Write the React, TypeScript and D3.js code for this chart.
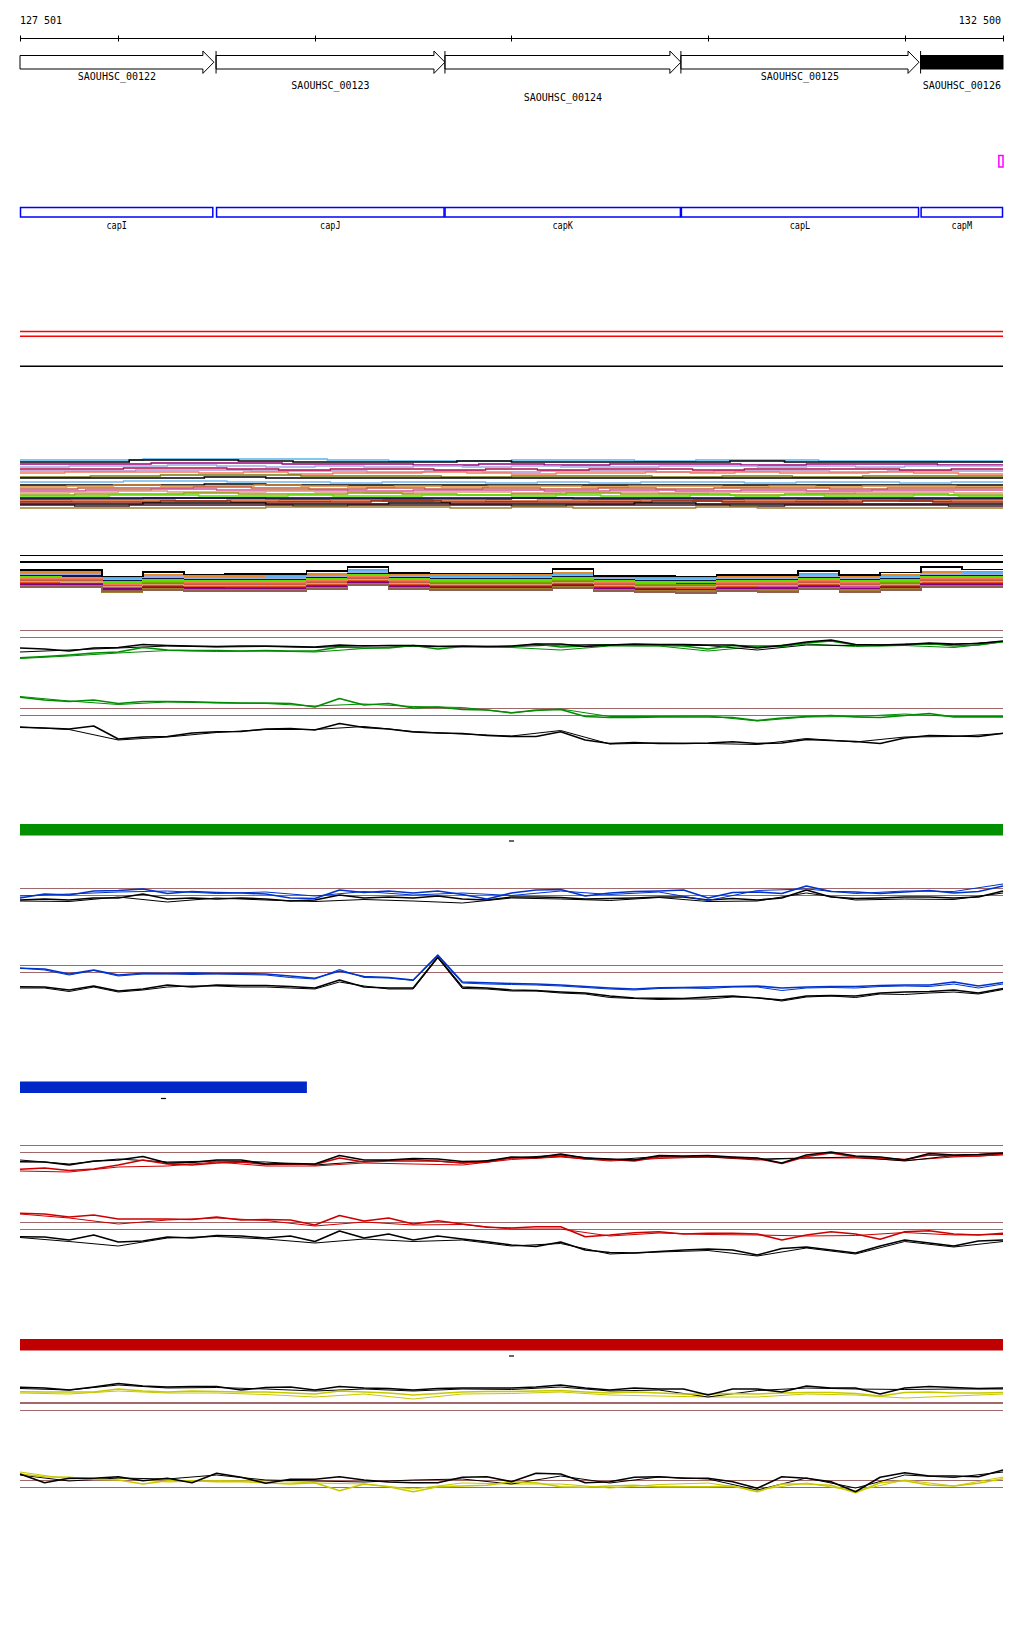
import React from 'react';
import * as d3 from 'd3';

// ---------- window / annotation data ----------
const WINDOW: [number, number] = [127501, 132500];
const RULER_TICKS = [128000, 129000, 130000, 131000, 132000];

const GENE_NAMES = ['SAOUHSC_00122', 'SAOUHSC_00123', 'SAOUHSC_00124', 'SAOUHSC_00125', 'SAOUHSC_00126'];
const GENE_STARTS = [127200, 128498, 129662, 130862, 132081];
const GENE_ENDS = [128487, 129662, 130862, 132073, 132900];
const GENE_ROWS = [0, 1, 2, 0, 1];
const GENE_SELECTED = [false, false, false, false, true];

const CDS_NAMES = ['capI', 'capJ', 'capK', 'capL', 'capM'];
const CDS_STARTS = [127200, 128498, 129660, 130862, 132081];
const CDS_ENDS = [128484, 129660, 130862, 132073, 132900];

const MARKER = [132479, 132500];

const BAR_GREEN = [127501, 132500];
const BAR_BLUE = [127501, 128960];
const BAR_RED = [127501, 132500];

// ---------- multi-sample step tracks ----------
const TA_COLORS = ['#5ab4f0', '#000000', '#990077', '#a0a8e8', '#b090d0', '#b0104a', '#f87858', '#7a7a10', '#000000', '#70b8f0', '#000000', '#e08a30', '#c06040', '#d050a0', '#d8a070', '#94a010', '#58e000', '#000000', '#101848', '#e05a20', '#902010', '#000000', '#401020', '#a08030'];
const TA_VALUES = [
  [50, 50, 51, 51, 51, 50, 49, 49, 50, 50, 49, 50, 50, 49, 49, 49],
  [48, 48, 50, 50, 49, 48, 48, 48, 49, 48, 48, 48, 48, 49, 48, 48, 48, 48],
  [46, 46, 47, 47, 46, 46, 45, 46, 45, 46, 46, 45, 46, 46, 45],
  [43, 44, 44, 45, 44, 43, 44, 43, 44, 43, 44, 43, 43, 44, 44, 43, 44, 43, 44, 44],
  [39, 39, 40, 40, 39, 39, 38, 39, 38, 39, 39, 38, 39, 39, 38, 39, 39],
  [41, 41, 42, 42, 41, 40, 41, 41, 40, 41, 40, 41, 41, 40, 41, 41, 41, 40, 41],
  [37, 38, 38, 38, 37, 38, 36, 37, 37, 38, 37, 36, 37, 37, 38, 37, 38, 37, 37, 38, 37, 36],
  [33, 34, 35, 35, 34, 34, 33, 34, 34, 33, 34, 33, 34, 34],
  [32, 32, 32, 33, 32, 32, 32, 32, 32, 32, 32, 32, 32, 32, 32, 32],
  [28, 28, 29, 29, 28, 28, 27, 28, 28, 27, 28, 27, 28, 28, 27, 28, 28, 27, 28],
  [25, 25, 25, 26, 25, 25, 25, 25, 25, 25, 25, 25, 25, 25, 25, 25],
  [23, 24, 25, 24, 24, 25, 24, 23, 24, 23, 24, 24, 23, 24, 24, 23, 24, 23, 24, 24, 23],
  [21, 22, 22, 23, 22, 21, 22, 21, 22, 21, 22, 21, 22, 22, 21, 22, 22],
  [19, 20, 21, 20, 20, 19, 20, 20, 19, 20, 19, 20, 19, 20, 20],
  [17, 18, 19, 18, 18, 19, 18, 17, 18, 18, 17, 18, 18, 17, 18, 18, 17, 18, 18, 17],
  [15, 16, 16, 17, 16, 16, 17, 16, 15, 16, 17, 16, 16, 15, 16, 16, 16, 15],
  [14, 14, 15, 15, 14, 14, 15, 14, 14, 15, 15, 14, 15, 14, 14, 15, 14, 15, 14, 14, 15, 14],
  [12, 12, 12, 12, 12, 12, 12, 12, 12, 12, 12, 12, 12, 12, 12, 12],
  [11, 11, 12, 12, 11, 11, 11, 11, 12, 11, 11, 11, 11, 11, 11, 11],
  [9, 10, 10, 9, 10, 9, 10, 9, 10, 9, 10, 9, 10, 9, 10, 9, 10, 9, 10],
  [8, 8, 9, 8, 8, 9, 8, 8, 8, 9, 8, 8, 9, 8],
  [6, 6, 7, 7, 6, 6, 7, 6, 6, 6, 7, 6, 6, 6, 6, 6],
  [5, 4, 5, 5, 5, 4, 5, 5, 5, 4, 5, 5, 5, 4, 5, 5, 5, 4],
  [2, 2, 2, 2, 3, 3, 3, 2, 3, 2, 2, 3, 2, 2, 2, 2],
];

const TB_REFS = [44.5, 38.2];
const TB_COLORS = ['#e08a30', '#5ab4f0', '#a0a8e8', '#101848', '#60e000', '#990077', '#f87858', '#80a000', '#c06040', '#d050a0', '#e05020', '#d8a070', '#a02020', '#800080', '#a08030', '#906050', '#000000'];
const TB_VALUES = [
  [28, 28, 23, 25, 24, 24, 24, 26, 30, 26, 25, 25, 25, 27, 24, 23, 23, 24, 24, 26, 24, 25, 28, 28],
  [26, 26, 21, 24, 22, 22, 23, 24, 29, 24, 23, 24, 23, 25, 22, 21, 21, 22, 22, 25, 22, 23, 26, 27],
  [25, 25, 20, 23, 21, 21, 21, 23, 28, 23, 22, 22, 22, 24, 21, 20, 20, 21, 21, 24, 21, 22, 26, 25],
  [24, 24, 19, 21, 20, 20, 20, 22, 26, 22, 21, 21, 21, 23, 20, 19, 19, 20, 20, 22, 20, 21, 24, 24],
  [23, 22, 18, 20, 19, 19, 19, 21, 25, 21, 20, 20, 20, 22, 19, 18, 18, 19, 19, 21, 19, 20, 23, 23],
  [21.5, 21.5, 16.5, 18.5, 17.5, 17.5, 17.5, 19.5, 23.5, 19.5, 18.5, 18.5, 18.5, 20.5, 17.5, 16.5, 16.5, 17.5, 17.5, 19.5, 17.5, 18.5, 21.5, 21.5],
  [21, 21, 16, 18, 17, 17, 17, 19, 23, 19, 18, 18, 18, 20, 17, 16, 15, 17, 17, 19, 17, 18, 21, 21],
  [20, 20, 14, 17, 16, 16, 16, 18, 22, 18, 17, 17, 17, 19, 16, 15, 15, 16, 16, 18, 16, 17, 20, 20],
  [19, 19, 14, 16, 15, 15, 15, 17, 21, 17, 16, 16, 16, 18, 15, 14, 14, 15, 15, 17, 15, 16, 19, 19],
  [18, 18, 13, 15, 14, 14, 14, 16, 20, 16, 15, 15, 15, 17, 14, 13, 13, 14, 14, 16, 14, 15, 18, 18],
  [17, 17, 12, 14, 13, 13, 13, 15, 19, 15, 14, 14, 14, 16, 13, 11, 11, 13, 12, 15, 12, 14, 17, 17],
  [18.5, 18, 13.5, 15.5, 14.5, 14.5, 14.5, 16.5, 20.5, 16.5, 15.5, 15.5, 15.5, 17.5, 14.5, 13.5, 13.5, 14.5, 14.5, 16.5, 14.5, 15.5, 18.5, 18.5],
  [16, 16, 11, 13, 12, 12, 12, 14, 18, 14, 13, 13, 13, 15, 12, 11, 10, 12, 12, 14, 11, 13, 16, 16],
  [15, 15, 11, 12, 12, 11, 11, 13, 17, 13, 12, 12, 12, 14, 11, 10, 10, 11, 11, 13, 11, 12, 15, 15],
  [14, 14, 8, 11, 10, 10, 10, 12, 16, 12, 11, 11, 11, 13, 10, 9, 9, 10, 10, 12, 10, 11, 14, 14],
  [13, 13, 9, 10, 9, 9, 9, 11, 15, 11, 10, 10, 10, 12, 9, 8, 7, 9, 8, 11, 8, 10, 13, 13],
  [30, 30, 23.5, 28, 25.5, 26, 26, 29, 33, 27, 26.5, 26.5, 26.5, 31, 24, 24, 23.5, 25, 25, 29, 25, 27.5, 33, 30.5],
];

// ---------- expression line tracks ----------
const G1_REFS = [39.7, 32.7];
const G1_BLACK = [22, 21, 19, 22, 22.5, 25.5, 24.5, 24, 23.5, 24, 24, 23.5, 23, 25, 24, 24.5, 24.5, 23.5, 24, 23.5, 24, 26, 26, 23.5, 25, 26, 25.5, 25.5, 25, 25, 22, 24.5, 28, 30, 25.5, 25, 25.5, 27, 26, 26.5, 29];
const G1_GREEN = [12.3, 13.5, 15, 17, 18, 22.5, 20, 19.5, 19.5, 19, 19.5, 19, 19, 23, 22, 22, 24.5, 21, 23.5, 23.5, 23, 26, 23, 24, 25, 24.5, 24.5, 24, 21, 24.5, 24, 23.5, 27, 29, 25, 24.5, 25, 26.5, 24, 25, 28.5];
const G1_BLACK_T = [18, 20, 22, 24, 23, 23.5, 22.5, 24.5, 24, 23.5, 23.5, 25, 25.5, 25, 24.5, 20, 25, 24.5, 26, 25.5, 28.5];
const G1_GREEN_T = [11.5, 14, 17, 19.5, 18.5, 19, 18, 21.5, 24, 23, 22.5, 20, 24, 24, 19, 23.5, 26, 23.5, 24.5, 22.5, 28];

const G2_REFS = [41.7, 34.7];
const G2_GREEN = [52.7, 50, 48.5, 50, 46.5, 48.5, 48.5, 48.3, 47.5, 47, 47, 46.5, 43, 51.5, 45, 46.5, 42, 43, 40.5, 40, 37, 40, 40.5, 33.5, 32.5, 32.5, 33, 33, 33, 32.5, 29.5, 32, 33.5, 34.5, 33, 32.5, 34.5, 36.5, 33, 33, 33];
const G2_BLACK = [22.7, 22, 21, 24, 11, 13, 13.5, 17, 18.3, 18.5, 21, 21.5, 20, 26.5, 22.5, 21, 18, 17, 16.5, 14.5, 13.5, 13.5, 18.3, 10, 6.5, 7.5, 6.5, 6.5, 7, 8.3, 6.5, 7, 10.5, 9.5, 8.5, 6.5, 12, 14.5, 14, 13.5, 16.7];
const G2_BLACK_T = [23, 20.5, 10, 13, 17.5, 20.5, 20.5, 23.5, 18.5, 16, 14, 19.5, 6, 7, 6.5, 5.5, 11.5, 8, 13, 13.5, 16.5];
const G2_GREEN_T = [53.5, 49, 45.5, 48, 47, 46.5, 44, 46, 43.5, 42.5, 37.5, 41, 33.5, 33.5, 34, 29, 33, 33.5, 36, 33.5, 33.5];

const B1_REFS = [26.7, 19.3];
const B1_BLUE = [17, 21, 20, 24, 24.5, 26, 21.5, 23.5, 22.5, 22, 21, 17, 16.5, 25, 22.5, 24, 22, 24, 20.5, 16, 22, 25, 25.5, 19, 22, 23.5, 24, 25, 17, 22.5, 23, 21.5, 29, 23.5, 23, 21.5, 23, 24.5, 22, 23.5, 29];
const B1_BLACK = [15, 16, 15, 17, 17, 21, 16, 17, 16, 17, 16, 14, 15, 20, 17, 18, 17, 19, 16, 15, 18, 18, 17.5, 16, 16.5, 17, 18, 18, 15, 16.5, 15, 17, 25, 18, 16.5, 17, 18, 18, 17, 18, 24];
const B1_BLACK_T = [14, 13.5, 18, 13, 17, 15, 13.5, 15.5, 14, 12, 17, 16, 14.5, 17.5, 13.5, 14, 22, 15, 16, 15.5, 22];
const B1_BLUE_T = [19, 21, 23, 24, 21.5, 23, 19, 23.5, 20, 22, 19.5, 24, 20.5, 23, 14.5, 24.5, 26, 21.5, 24, 23.5, 31];

const B2_REFS = [44.7, 37.7];
const B2_BLUE = [41.7, 41, 36, 40, 35, 36.7, 36.5, 37, 36.5, 36.5, 36, 34, 31.7, 39, 33.5, 32.5, 30, 55, 28, 27.3, 26.5, 26, 25, 23.5, 22, 21, 22.3, 22.5, 23, 23.5, 24, 22, 23, 23.5, 23.5, 24.5, 25, 25, 28, 24, 27.5];
const B2_BLACK = [23.3, 23, 20, 24, 19, 21, 25, 23, 25, 24.5, 24.5, 23.5, 22, 30, 23, 22, 22, 53, 23, 22, 20, 19.5, 18, 17, 14, 12, 11.7, 11.5, 13, 14, 12, 10, 14, 14.5, 14, 17, 18, 18.5, 20, 17, 21.5];
const B2_BLACK_T = [22, 22, 18.5, 23, 18, 20, 23, 24, 24, 23, 23, 22, 21, 28, 24, 21, 21, 52, 21.5, 21, 19, 19, 17, 16, 12.5, 11.5, 10.5, 11, 11, 13, 12.5, 9, 13, 14, 12.5, 16, 15.5, 17, 18, 16, 20.5];
const B2_BLUE_T = [42, 40, 35, 39.5, 34, 36, 36, 35.5, 36, 35.5, 35, 32.5, 31, 40.5, 32.5, 32, 29.5, 54, 27, 26, 25.5, 25, 24, 22.5, 21, 20, 21.5, 22, 21.5, 23, 23, 19.5, 22, 22.5, 22, 23.5, 24, 23.5, 26, 22, 26];

const R1_REFS = [39.7, 32.7];
const R1_BLACK = [23.3, 23, 20, 24, 25, 28.5, 22, 22.5, 25, 25, 21, 21.5, 21, 29.5, 25, 25, 26.5, 26, 23.5, 24, 28, 27.5, 31, 27, 26, 25, 29.5, 29, 29.5, 28, 27, 22, 30, 33, 29, 28, 25, 31.5, 30, 30.5, 32];
const R1_RED = [15.7, 17, 14.5, 16, 20, 25, 21, 20, 22, 23, 20.5, 21, 20.5, 27, 23, 24, 24, 24, 22, 23, 27, 27, 29, 26, 25.5, 24, 28, 28, 29, 27.5, 26.5, 21.5, 28.5, 32, 28, 27, 25.5, 30, 29, 29, 31];
const R1_BLACK_T = [25, 21, 26, 23, 24, 23, 20, 23.5, 25.5, 22, 27, 30, 25, 28.5, 28, 26, 27, 28, 24, 29.5, 31.5];
const R1_RED_T = [14, 13, 18, 19, 23, 19, 19, 22, 21, 20, 25.5, 28, 24, 26.5, 28, 25, 27, 27, 24.5, 28, 30];

const R2_REFS = [42.7, 35.7];
const R2_RED = [51.7, 51, 48, 50, 46, 46, 46, 45.5, 48, 45, 45.5, 45, 40, 49.5, 44, 47, 41, 44.3, 41, 37.7, 37, 38.3, 38.3, 28.3, 30, 32.3, 33.3, 31, 31.7, 31.7, 31, 25, 30, 33.3, 31, 25.7, 33.3, 34.3, 31, 30, 31.7];
const R2_BLACK = [28.3, 28, 25, 30, 23, 24, 28, 27, 29.5, 29, 27, 29, 23.5, 34, 27, 31, 25, 29, 26, 23.3, 20, 18.5, 23, 15, 12.5, 12, 13.5, 15, 16, 15, 10, 16.5, 18, 15, 12, 19, 25, 22, 19, 24, 25];
const R2_RED_T = [51, 47, 41, 45, 47, 44.5, 39, 43, 40, 40.5, 36, 36, 29, 32, 30.5, 30, 29, 29.5, 32.5, 30, 30.5];
const R2_BLACK_T = [27.5, 23.5, 19, 27, 28.5, 26, 22, 26, 23.5, 25, 19, 21.5, 11, 13, 14.5, 9, 17, 11, 23.5, 18, 23.5];

const Y1_REFS = [17, 9.7];
const Y1_BLACK = [32.7, 32, 30, 33, 36.5, 34, 33, 33.5, 33.5, 30, 32.5, 33, 30, 33.5, 32, 31.5, 30, 31.5, 32, 32, 32, 33, 35, 32, 30, 32, 31, 31, 25, 31, 31, 28, 34, 32, 32, 26, 32, 33.5, 32.5, 31.5, 32];
const Y1_YELLOW = [28.3, 28, 28, 28, 31, 29, 28, 29, 28.5, 28, 28, 27, 26, 29, 28, 27, 25, 26.5, 28, 28.5, 28.5, 29, 29.5, 28, 27, 28, 27, 26, 26, 26.5, 26, 27, 27.5, 27.5, 26.5, 24, 27.5, 28, 27, 27, 27.5];
const Y1_BLACK_T = [31.5, 30, 35, 32, 32.5, 31, 29, 31, 29, 31, 30.5, 33, 29, 30, 23, 29.5, 32, 31, 30.5, 31, 31];
const Y1_YELLOW_T = [27, 26, 29, 27, 27, 25.5, 23, 26, 21, 26, 26.5, 28, 25, 24, 23, 23, 26, 25, 22, 24, 26];

const Y2_REFS = [19.7, 12.7];
const Y2_BLACK = [26, 17.3, 21.7, 21.7, 23.3, 19.3, 21.7, 17.3, 26.7, 22.7, 16.7, 20.7, 20.7, 23.3, 20, 18, 17.3, 17.3, 22.7, 23.3, 18.3, 26.7, 26, 17.3, 18.3, 22.7, 23.3, 21.7, 21.7, 18.3, 11.7, 23.3, 21.7, 18.3, 8.3, 22.7, 27.3, 24, 24, 23.3, 30];
const Y2_YELLOW = [26, 23.3, 22.7, 20.7, 20, 16, 19.3, 19.3, 18.3, 18.3, 17.3, 16, 17.3, 9.3, 16, 13.3, 8.3, 13.3, 14, 14.7, 18.3, 17.3, 13.3, 12.7, 14, 14.7, 13.3, 13.3, 13.3, 14, 8.3, 16, 16, 14.7, 7.3, 17.3, 19.3, 15, 14, 16.7, 21.3];
const Y2_BLACK_T = [25, 19, 22, 21, 25, 20, 19, 18, 20, 21, 16, 24, 17, 23, 21, 10, 22, 12, 25, 22.5, 28];
const Y2_YELLOW_T = [28, 21, 22, 18, 19.5, 19, 17, 16, 11, 17, 16, 16, 12, 15.5, 17, 10, 17, 9, 20, 14, 23];

// ---------- styles ----------
const GREEN = '#008c00';
const BLUE = '#0033cc';
const RED = '#cc0000';
const YELLOW = '#c8c800';
const REF = '#a06868';
const FONT = "'DejaVu Sans Mono', 'Liberation Mono', monospace";

const X0 = 20;
const X1 = 1003;
const THICK = 1.6;
const THIN = 1;

type Series = { values: number[]; color: string; width: number };
type LineTrack = { bottom: number; refs: number[]; series: Series[] };

const LINE_TRACKS: LineTrack[] = [
  { bottom: 670, refs: G1_REFS, series: [
    { values: G1_GREEN_T, color: GREEN, width: THIN }, { values: G1_BLACK_T, color: '#000', width: THIN },
    { values: G1_GREEN, color: GREEN, width: THICK }, { values: G1_BLACK, color: '#000', width: THICK }] },
  { bottom: 750, refs: G2_REFS, series: [
    { values: G2_GREEN_T, color: GREEN, width: THIN }, { values: G2_BLACK_T, color: '#000', width: THIN },
    { values: G2_GREEN, color: GREEN, width: THICK }, { values: G2_BLACK, color: '#000', width: THICK }] },
  { bottom: 915, refs: B1_REFS, series: [
    { values: B1_BLACK_T, color: '#000', width: THIN }, { values: B1_BLACK, color: '#000', width: THICK },
    { values: B1_BLUE_T, color: BLUE, width: THIN }, { values: B1_BLUE, color: BLUE, width: THICK }] },
  { bottom: 1010, refs: B2_REFS, series: [
    { values: B2_BLACK_T, color: '#000', width: THIN }, { values: B2_BLACK, color: '#000', width: THICK },
    { values: B2_BLUE_T, color: BLUE, width: THIN }, { values: B2_BLUE, color: BLUE, width: THICK }] },
  { bottom: 1185, refs: R1_REFS, series: [
    { values: R1_RED_T, color: RED, width: THIN }, { values: R1_BLACK_T, color: '#000', width: THIN },
    { values: R1_RED, color: RED, width: THICK }, { values: R1_BLACK, color: '#000', width: THICK }] },
  { bottom: 1265, refs: R2_REFS, series: [
    { values: R2_RED_T, color: RED, width: THIN }, { values: R2_BLACK_T, color: '#000', width: THIN },
    { values: R2_RED, color: RED, width: THICK }, { values: R2_BLACK, color: '#000', width: THICK }] },
  { bottom: 1420, refs: Y1_REFS, series: [
    { values: Y1_YELLOW_T, color: YELLOW, width: THIN }, { values: Y1_BLACK_T, color: '#000', width: THIN },
    { values: Y1_YELLOW, color: YELLOW, width: THICK }, { values: Y1_BLACK, color: '#000', width: THICK }] },
  { bottom: 1500, refs: Y2_REFS, series: [
    { values: Y2_YELLOW_T, color: YELLOW, width: THIN }, { values: Y2_BLACK_T, color: '#000', width: THIN },
    { values: Y2_YELLOW, color: YELLOW, width: THICK }, { values: Y2_BLACK, color: '#000', width: THICK }] },
];

const x = d3.scaleLinear().domain(WINDOW).range([X0, X1]);
const cx = (v: number) => x(Math.max(WINDOW[0], Math.min(WINDOW[1], v)));
const trackY = (bottom: number) => d3.scaleLinear().domain([0, 100]).range([bottom, bottom - 100]);
const fmt = d3.formatLocale({ decimal: '.', thousands: ' ', grouping: [3], currency: ['', ''] }).format(',');

function gridLine(values: number[], y: d3.ScaleLinear<number, number>) {
  const n = values.length;
  const pos = d3.range(n).map(i => WINDOW[0] + (i * (WINDOW[1] - WINDOW[0])) / (n - 1));
  return d3.line<number>().x((_, i) => x(pos[i])).y(v => y(v))(values) || '';
}

function stepLine(values: number[], y: d3.ScaleLinear<number, number>) {
  const n = values.length;
  const step = (WINDOW[1] - WINDOW[0]) / n;
  const pts: [number, number][] = values.map((v, i) => [WINDOW[0] + i * step, v] as [number, number]);
  pts.push([WINDOW[1], values[n - 1]]);
  return d3.line<[number, number]>().x(d => x(d[0])).y(d => y(d[1])).curve(d3.curveStepAfter)(pts) || '';
}

function ColorBar({ range, y, color }: { range: number[]; y: number; color: string }) {
  const a = cx(range[0]);
  const b = cx(range[1]);
  const mid = (a + b) / 2;
  return (
    <g>
      <rect x={a} y={y} width={b - a} height={11.5} fill={color} />
      <line x1={mid - 2.5} x2={mid + 2.5} y1={y + 17} y2={y + 17} stroke="#000" strokeWidth={1.2} />
    </g>
  );
}

export default function App() {
  const yA = trackY(510);
  const yB = trackY(600);
  const labelRowY = [79.5, 89, 101.3];
  return (
    <svg width={1024} height={1640} style={{ position: 'absolute', left: 0, top: 0, background: '#fff' }} fontFamily={FONT} fontSize={10}>
      <rect x={0} y={0} width={1024} height={1640} fill="#fff" />
      {/* coordinates */}
      <text x={X0} y={23.5} fill="#000">{fmt(WINDOW[0])}</text>
      <text x={X1 - 2} y={23.5} fill="#000" textAnchor="end">{fmt(WINDOW[1])}</text>
      {/* ruler */}
      <line x1={X0} x2={X1} y1={38.5} y2={38.5} stroke="#000" strokeWidth={1} />
      {[WINDOW[0], ...RULER_TICKS, WINDOW[1]].map(t => (
        <line key={t} x1={Math.round(x(t)) + 0.5} x2={Math.round(x(t)) + 0.5} y1={35.5} y2={41.5} stroke="#000" strokeWidth={1} />
      ))}
      {/* genes */}
      {GENE_NAMES.map((name, i) => {
        const s = cx(GENE_STARTS[i]);
        const e = cx(GENE_ENDS[i]);
        const clippedEnd = GENE_ENDS[i] > WINDOW[1];
        const startVisible = GENE_STARTS[i] >= WINDOW[0];
        const h = 11;
        const body = GENE_SELECTED[i] || clippedEnd
          ? <rect x={s} y={55.5} width={e - s} height={13.5} fill={GENE_SELECTED[i] ? '#000' : '#fff'} stroke="#000" strokeWidth={1} />
          : <path d={`M${s},55.5 L${e - h},55.5 L${e - h},51 L${e},62.2 L${e - h},73.4 L${e - h},69 L${s},69 Z`} fill="#fff" stroke="#000" strokeWidth={1} />;
        return (
          <g key={name}>
            {body}
            {startVisible && <line x1={s} x2={s} y1={51} y2={73.5} stroke="#000" strokeWidth={1} />}
            <text x={(s + e) / 2} y={labelRowY[GENE_ROWS[i]]} textAnchor="middle" fill="#000">{name}</text>
          </g>
        );
      })}
      {/* marker */}
      <rect x={cx(MARKER[0])} y={155.5} width={cx(MARKER[1]) - cx(MARKER[0])} height={11.5} fill="none" stroke="#ff00ff" strokeWidth={1.5} />
      {/* CDS boxes */}
      {CDS_NAMES.map((name, i) => {
        const s = cx(CDS_STARTS[i]);
        const e = cx(CDS_ENDS[i]);
        return (
          <g key={name}>
            <rect x={s + 0.5} y={207.5} width={e - s - 1} height={9.5} fill="#fff" stroke="#0000ff" strokeWidth={1.5} />
            <text x={(s + e) / 2} y={229} textAnchor="middle" fill="#000" fontSize={10} transform={`translate(${(s + e) / 2},229) scale(0.85,1.1) translate(${-(s + e) / 2},-229)`}>{name}</text>
          </g>
        );
      })}
      {/* empty tracks */}
      <line x1={X0} x2={X1} y1={331.5} y2={331.5} stroke="#ff0000" strokeWidth={1.5} />
      <line x1={X0} x2={X1} y1={336.3} y2={336.3} stroke="#ff0000" strokeWidth={1.5} />
      <line x1={X0} x2={X1} y1={366.3} y2={366.3} stroke="#000" strokeWidth={1.5} />
      {/* multi-sample track A */}
      <g fill="none">
        {TA_VALUES.map((vals, i) => (
          <path key={i} d={stepLine(vals, yA)} stroke={TA_COLORS[i]} strokeWidth={TA_COLORS[i] === '#000000' ? 1.6 : 1.3} />
        ))}
      </g>
      {/* multi-sample track B */}
      <g fill="none" shapeRendering="crispEdges">
        {TB_REFS.map(r => (
          <line key={r} x1={X0} x2={X1} y1={yB(r)} y2={yB(r)} stroke="#000" strokeWidth={1.5} />
        ))}
        {TB_VALUES.map((vals, i) => (
          <path key={i} d={stepLine(vals, yB)} stroke={TB_COLORS[i]} strokeWidth={TB_COLORS[i] === '#000000' ? 1.5 : 1.2} />
        ))}
      </g>
      {/* colour bars */}
      <ColorBar range={BAR_GREEN} y={824} color="#009000" />
      <ColorBar range={BAR_BLUE} y={1081.5} color="#0028c8" />
      <ColorBar range={BAR_RED} y={1339} color="#c00000" />
      {/* line tracks */}
      {LINE_TRACKS.map((t, ti) => {
        const y = trackY(t.bottom);
        return (
          <g key={ti} fill="none">
            {t.refs.map(r => (
              <line key={r} x1={X0} x2={X1} y1={y(r)} y2={y(r)} stroke={REF} strokeWidth={1.2} shapeRendering="crispEdges" />
            ))}
            {t.series.map((s, si) => (
              <path key={si} d={gridLine(s.values, y)} stroke={s.color} strokeWidth={s.width} strokeLinejoin="round" />
            ))}
          </g>
        );
      })}
    </svg>
  );
}
